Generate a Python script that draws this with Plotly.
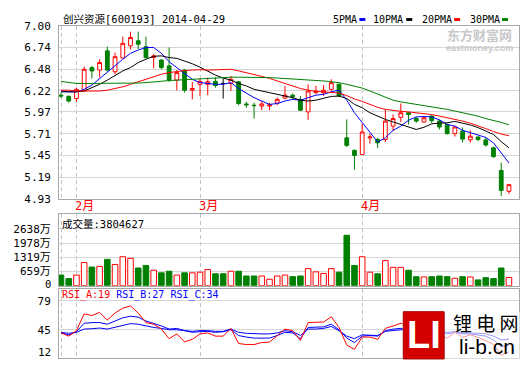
import plotly.graph_objects as go

# ---------------- data ----------------
stock_name = "创兴资源"
stock_code = "600193"

dates = (["2014-01-29", "2014-01-30", "2014-02-07"]
         + ["2014-02-%02d" % d for d in (10, 11, 12, 13, 14, 17, 18, 19, 20, 21, 24, 25, 26, 27, 28)]
         + ["2014-03-%02d" % d for d in (3, 4, 5, 6, 7, 10, 11, 12, 13, 14, 17, 18, 19, 20, 21, 24, 25, 26, 27, 28, 31)]
         + ["2014-04-%02d" % d for d in (1, 2, 3, 4, 8, 9, 10, 11, 14, 15, 16, 17, 18, 21, 22, 23, 24, 25, 28, 29)])

opens = [6.17, 6.155, 6.13, 6.22, 6.50, 6.47, 6.70, 6.45, 6.615, 6.76,
         6.82, 6.75, 6.62, 6.59, 6.52, 6.35, 6.47, 6.23, 6.30, 6.30,
         6.335, 6.31, 6.31, 6.33, 6.065, 6.05, 6.04, 6.04, 6.075, 6.135,
         6.17, 6.12, 5.97, 6.20, 6.20, 6.24, 6.30, 5.66, 5.51, 5.46,
         5.66, 5.64, 5.64, 5.80, 5.905, 5.96, 5.89, 5.85, 5.92, 5.86,
         5.82, 5.71, 5.74, 5.635, 5.67, 5.635, 5.54, 5.27, 5.02]
highs = [6.20, 6.17, 6.26, 6.51, 6.52, 6.60, 6.75, 6.68, 6.87, 6.93,
         6.93, 6.87, 6.66, 6.60, 6.74, 6.47, 6.48, 6.33, 6.37, 6.38,
         6.385, 6.37, 6.40, 6.34, 6.09, 6.08, 6.105, 6.08, 6.14, 6.28,
         6.19, 6.16, 6.30, 6.28, 6.29, 6.36, 6.31, 5.88, 5.52, 5.83,
         5.71, 5.66, 6.00, 5.94, 6.07, 5.97, 5.91, 5.92, 5.93, 5.875,
         5.83, 5.805, 5.785, 5.75, 5.675, 5.665, 5.555, 5.365, 5.11]
lows = [6.14, 6.08, 6.09, 6.22, 6.37, 6.38, 6.45, 6.42, 6.61, 6.72,
        6.72, 6.61, 6.49, 6.48, 6.33, 6.23, 6.20, 6.12, 6.16, 6.17,
        6.26, 6.13, 6.22, 6.05, 6.02, 5.89, 5.99, 5.99, 6.05, 6.12,
        6.12, 5.98, 5.875, 6.18, 6.16, 6.22, 6.15, 5.55, 5.28, 5.46,
        5.59, 5.54, 5.61, 5.74, 5.85, 5.82, 5.84, 5.84, 5.835, 5.76,
        5.70, 5.675, 5.605, 5.605, 5.62, 5.555, 5.42, 4.965, 4.99]
closes = [6.16, 6.10, 6.24, 6.48, 6.46, 6.56, 6.47, 6.63, 6.79, 6.86,
          6.78, 6.62, 6.64, 6.50, 6.35, 6.44, 6.23, 6.25, 6.335, 6.33,
          6.285, 6.31, 6.36, 6.07, 6.055, 6.045, 6.065, 6.055, 6.12, 6.17,
          6.15, 5.99, 6.22, 6.22, 6.23, 6.32, 6.16, 5.57, 5.45, 5.73,
          5.67, 5.60, 5.86, 5.89, 5.96, 5.94, 5.86, 5.90, 5.865, 5.79,
          5.71, 5.79, 5.645, 5.68, 5.64, 5.575, 5.435, 5.03, 5.10]

# volume in 万 (10k shares)
volumes = [493, 328, 493, 1077, 867, 897, 1226, 987, 1346, 1271,
           822, 942, 718, 598, 673, 493, 598, 598, 628, 748,
           553, 553, 673, 673, 449, 449, 449, 300, 449, 493,
           419, 449, 793, 643, 568, 793, 628, 2346, 942, 1346,
           628, 553, 1166, 852, 852, 718, 419, 404, 419, 449,
           419, 344, 419, 404, 269, 374, 329, 822, 380.4627]

ma5 = [6.22, 6.21, 6.21, 6.24, 6.29, 6.37, 6.45, 6.53, 6.60, 6.67,
       6.71, 6.74, 6.74, 6.67, 6.57, 6.50, 6.43, 6.36, 6.32, 6.31,
       6.30, 6.30, 6.32, 6.25, 6.19, 6.14, 6.10, 6.06, 6.07, 6.10,
       6.12, 6.11, 6.14, 6.17, 6.18, 6.21, 6.23, 6.11, 5.96, 5.84,
       5.72, 5.61, 5.66, 5.75, 5.80, 5.87, 5.91, 5.915, 5.91, 5.875,
       5.82, 5.80, 5.75, 5.72, 5.695, 5.665, 5.60, 5.48, 5.36]
ma10 = [6.21, 6.21, 6.21, 6.22, 6.26, 6.30, 6.35, 6.41, 6.46, 6.50,
        6.56, 6.60, 6.635, 6.64, 6.62, 6.61, 6.58, 6.546, 6.505, 6.455,
        6.41, 6.375, 6.35, 6.31, 6.28, 6.24, 6.22, 6.20, 6.18, 6.16,
        6.14, 6.11, 6.10, 6.11, 6.13, 6.155, 6.16, 6.13, 6.06, 6.02,
        5.96, 5.92, 5.88, 5.85, 5.82, 5.79, 5.76, 5.786, 5.8275, 5.835,
        5.84, 5.856, 5.835, 5.814, 5.782, 5.745, 5.70, 5.615, 5.54]
ma20 = [6.23, 6.23, 6.22, 6.22, 6.22, 6.22, 6.23, 6.25, 6.27, 6.30,
        6.33, 6.36, 6.39, 6.42, 6.44, 6.455, 6.465, 6.47, 6.475, 6.47,
        6.475, 6.48, 6.48, 6.46, 6.44, 6.415, 6.395, 6.37, 6.34, 6.31,
        6.28, 6.25, 6.23, 6.215, 6.21, 6.20, 6.195, 6.165, 6.125, 6.095,
        6.06, 6.025, 6.0, 5.985, 5.977, 5.97, 5.96, 5.95, 5.938, 5.92,
        5.90, 5.887, 5.86, 5.835, 5.805, 5.77, 5.735, 5.705, 5.685]
ma30 = [6.335, 6.32, 6.31, 6.31, 6.31, 6.31, 6.31, 6.31, 6.31, 6.31,
        6.315, 6.32, 6.33, 6.34, 6.345, 6.35, 6.355, 6.36, 6.37, 6.375,
        6.38, 6.385, 6.385, 6.385, 6.385, 6.385, 6.385, 6.38, 6.375, 6.37,
        6.365, 6.36, 6.355, 6.345, 6.34, 6.33, 6.32, 6.30, 6.28, 6.255,
        6.22, 6.18, 6.145, 6.11, 6.09, 6.075, 6.06, 6.05, 6.035, 6.02,
        6.00, 5.98, 5.96, 5.94, 5.92, 5.89, 5.87, 5.845, 5.815]

rsi_a = [41.3, 37.5, 44, 63.6, 61.7, 65.4, 56.3, 64.7, 70.4, 73,
         64.7, 53.4, 51.5, 45.8, 34.5, 40.1, 30.7, 33.7, 40.1, 41.3,
         37.5, 37.5, 46.6, 28.8, 27.6, 27.6, 30, 30.5, 38.2, 45.8,
         43.9, 32.5, 53.4, 53.4, 54.1, 60.2, 47.7, 26.9, 22, 36.4,
         36.4, 33.7, 46.6, 49.5, 52.6, 49.5, 44, 46, 43, 39,
         35, 42, 36, 39, 36, 32, 28, 15, 19]
rsi_b = [41.3, 39, 42.7, 52.6, 53.4, 53.4, 51.5, 55.3, 59, 60.9,
         59.8, 55.3, 52.6, 49.5, 45.8, 46.6, 43.9, 42, 42.7, 43.1,
         42, 42.7, 45, 38.2, 36.4, 35.2, 35.2, 35.2, 38.2, 42,
         41.3, 34.5, 47.7, 47.7, 48.4, 51.5, 45, 35.2, 29.9, 37.5,
         38.2, 37.5, 43.9, 45.8, 46.6, 45.8, 43.9, 44.6, 43.9, 42,
         40.1, 42, 40.1, 40.1, 39, 37.5, 33, 25, 27]
rsi_c = [42, 40.8, 42, 45.8, 46.2, 47, 45.8, 47.7, 49.5, 52.2,
         51.5, 49.5, 47.7, 46.6, 45, 45, 44, 43.1, 44, 44,
         43.1, 43.1, 45.8, 42, 40.8, 40.1, 40.1, 40.1, 41.3, 43.9,
         42.7, 38.2, 45.8, 45.8, 46.6, 48.8, 43.9, 37.5, 34.5, 39,
         39, 38.2, 43.1, 43.9, 45, 44.6, 43.9, 44.2, 43.9, 43.1,
         42, 42.7, 41.3, 41.3, 40.8, 40.1, 37.5, 33, 34]

price_tick_labels = ["4.93", "5.19", "5.45", "5.71", "5.97", "6.22", "6.48", "6.74", "7.00"]
vol_tick_values = [659, 1319, 1978, 2638]
rsi_tick_values = [45, 79]
ma_names = ["5PMA", "10PMA", "20PMA", "30PMA"]

# ---------------- styling / layout helpers ----------------
W, H, LM = 520, 365, 59
RED, GREEN, BLUE, BLACK = "#ff0000", "#008000", "#0000ff", "#000000"
ma_colors = [BLUE, BLACK, RED, GREEN]
MONO = "DejaVu Sans Mono, Noto Sans CJK SC"


def py(y):
    return (H - y) / H


def px(x):
    return (x - LM) / (W - LM)


n = len(dates)
idx = list(range(n))
doji = [c == o for o, c in zip(opens, closes)]
up = [c > o for o, c in zip(opens, closes)]

# month boundaries
month_ticks, month_labels = [], []
for i, d in enumerate(dates):
    if i == 0 or d[5:7] != dates[i - 1][5:7]:
        month_ticks.append(i)
        month_labels.append("" if i == 0 else "%d月" % int(d[5:7]))

fig = go.Figure()

nd = [i for i in idx if not doji[i]]
fig.add_trace(go.Candlestick(
    x=nd, open=[opens[i] for i in nd], high=[highs[i] for i in nd],
    low=[lows[i] for i in nd], close=[closes[i] for i in nd],
    increasing=dict(line=dict(color=RED, width=1), fillcolor="#ffffff"),
    decreasing=dict(line=dict(color=GREEN, width=1), fillcolor=GREEN),
    whiskerwidth=0, hoverinfo="skip", xaxis="x", yaxis="y"))
dj = [i for i in idx if doji[i]]
fig.add_trace(go.Candlestick(
    x=dj, open=[opens[i] for i in dj], high=[highs[i] for i in dj],
    low=[lows[i] for i in dj], close=[closes[i] for i in dj],
    increasing=dict(line=dict(color=BLACK, width=1), fillcolor=BLACK),
    decreasing=dict(line=dict(color=BLACK, width=1), fillcolor=BLACK),
    whiskerwidth=0, hoverinfo="skip", xaxis="x", yaxis="y"))

for vals, col in zip([ma5, ma10, ma20, ma30], ma_colors):
    fig.add_trace(go.Scatter(x=idx, y=vals, mode="lines", line=dict(color=col, width=1),
                             hoverinfo="skip", xaxis="x", yaxis="y"))

fig.add_trace(go.Bar(
    x=idx, y=volumes, width=0.72,
    marker=dict(color=["#ffffff" if u else GREEN for u in up],
                line=dict(color=[RED if u else GREEN for u in up], width=1)),
    hoverinfo="skip", xaxis="x2", yaxis="y2"))

for vals, col in zip([rsi_c, rsi_b, rsi_a], [BLUE, BLUE, RED]):
    fig.add_trace(go.Scatter(x=idx, y=vals, mode="lines", line=dict(color=col, width=1),
                             hoverinfo="skip", xaxis="x3", yaxis="y3"))

xr = [-2 / 7.74, (W - LM - 2) / 7.74]
xcommon = dict(range=xr, tickmode="array", tickvals=month_ticks, showticklabels=False,
               showgrid=True, gridcolor="#c4c4c4", griddash="4px,3px", gridwidth=1,
               showline=True, mirror=True, linecolor="#a8a8a8", linewidth=1,
               zeroline=False, ticks="", fixedrange=True)
ycommon = dict(showgrid=True, gridcolor="#d6d6d6", gridwidth=1, showline=True, mirror=True,
               linecolor="#a8a8a8", linewidth=1, zeroline=False, ticks="outside",
               ticklen=5, tickcolor="rgba(0,0,0,0)", tickfont=dict(family=MONO, size=11, color="#000"),
               fixedrange=True)

fig.update_layout(
    width=W, height=H, margin=dict(l=LM, r=0, t=0, b=0),
    paper_bgcolor="#ffffff", plot_bgcolor="#ffffff", showlegend=False,
    boxgap=0.3,
    xaxis=dict(xcommon, anchor="y", rangeslider=dict(visible=False)),
    xaxis2=dict(xcommon, anchor="y2", matches="x"),
    xaxis3=dict(xcommon, anchor="y3", matches="x"),
    yaxis=dict(ycommon, domain=[py(200), py(20.5)], range=[4.93, 7.00],
               tickvals=[float(s) for s in price_tick_labels], ticktext=price_tick_labels),
    yaxis2=dict(ycommon, domain=[py(290), py(216)], range=[0, 3320],
                tickvals=vol_tick_values, ticktext=["%d万" % v for v in vol_tick_values]),
    yaxis3=dict(ycommon, domain=[0, py(293)], range=[11.8, 93.4],
                tickvals=rsi_tick_values, ticktext=[str(v) for v in rsi_tick_values]),
)

ann = []
# month labels
for t, lab in zip(month_ticks, month_labels):
    if lab:
        ann.append(dict(x=t, xref="x", y=py(207.5), yref="paper", text=lab, showarrow=False,
                        xanchor="left", xshift=-3, yanchor="middle",
                        font=dict(family=MONO, size=12, color=RED)))
# header
ann.append(dict(x=px(61), xref="paper", y=py(13), yref="paper", xanchor="left", yanchor="middle",
                text="%s[%s] %s" % (stock_name, stock_code, dates[-1]), showarrow=False,
                font=dict(family=MONO, size=10.5, color="#000")))
# MA legend
leg_x = [332, 372, 421, 469]
for name, col, lx in zip(ma_names, ma_colors, leg_x):
    ann.append(dict(x=px(lx), xref="paper", y=py(14), yref="paper", xanchor="left", yanchor="middle",
                    text=name, showarrow=False, font=dict(family=MONO, size=10, color="#000")))
# volume label
ann.append(dict(x=px(60), xref="paper", y=py(226), yref="paper", xanchor="left", yanchor="middle",
                text="成交量:%d" % round(volumes[-1] * 10000), showarrow=False,
                font=dict(family=MONO, size=10.5, color="#000")))
# RSI label
ann.append(dict(x=px(60), xref="paper", y=py(300), yref="paper", xanchor="left", yanchor="middle",
                text=("<span style='color:%s'>RSI_A:%d</span> <span style='color:%s'>RSI_B:%d</span> "
                      "<span style='color:%s'>RSI_C:%d</span>") % (RED, round(rsi_a[-1]), BLUE, round(rsi_b[-1]),
                                                                 BLUE, round(rsi_c[-1])),
                showarrow=False, font=dict(family=MONO, size=10, color="#000")))
# edge tick labels
ann.append(dict(x=0, xref="paper", y=py(288.5), yref="paper", xanchor="right", xshift=-6, yanchor="middle",
                text="0", showarrow=False, font=dict(family=MONO, size=10.5, color="#000")))
ann.append(dict(x=0, xref="paper", y=py(359), yref="paper", xanchor="right", xshift=-6, yanchor="middle",
                text="12", showarrow=False, font=dict(family=MONO, size=11, color="#000")))
# watermark
ann.append(dict(x=px(480), xref="paper", y=py(29.5), yref="paper", xanchor="center", yanchor="middle",
                text="<b>东方财富网</b>", showarrow=False,
                font=dict(family="Noto Sans CJK SC", size=13, color="#c8c8c8")))
ann.append(dict(x=px(480), xref="paper", y=py(44), yref="paper", xanchor="center", yanchor="middle",
                text="<b>eastmoney.com</b>", showarrow=False,
                font=dict(family="Liberation Sans", size=9, color="#c8c8c8")))
# bottom-right logo
ann.append(dict(x=px(424.5), xref="paper", y=py(341), yref="paper", xanchor="center", yanchor="middle",
                text="<b>LI</b>", showarrow=False,
                font=dict(family="Liberation Sans", size=38, color="#ffffff")))
ann.append(dict(x=px(487), xref="paper", y=py(328), yref="paper", xanchor="center", yanchor="middle",
                text="锂 电 网", showarrow=False,
                font=dict(family="Noto Sans CJK SC", size=19, color="#000")))
ann.append(dict(x=px(488), xref="paper", y=py(353), yref="paper", xanchor="center", yanchor="middle",
                text="li-b.cn", showarrow=False,
                font=dict(family="Liberation Sans", size=21, color="#000")))

shapes = []
for col, lx in zip(ma_colors, [360, 407, 455, 503]):
    shapes.append(dict(type="rect", xref="paper", yref="paper", x0=px(lx), x1=px(lx + 6),
                       y0=py(15.5), y1=py(12.5), fillcolor=col, line=dict(width=0), layer="above"))
shapes.append(dict(type="rect", xref="paper", yref="paper", x0=px(403), x1=px(521), y0=py(366), y1=py(317),
                   fillcolor="rgba(255,255,255,0.6)", line=dict(width=0), layer="above"))
shapes.append(dict(type="rect", xref="paper", yref="paper", x0=px(404), x1=px(445), y0=py(366), y1=py(317),
                   fillcolor="#d40000", line=dict(color="#a00000", width=1), layer="above"))

fig.update_layout(annotations=ann, shapes=shapes)

fig.write_html("out.html", config={"displayModeBar": False, "staticPlot": True},
               post_script="document.body.style.margin='0';")
